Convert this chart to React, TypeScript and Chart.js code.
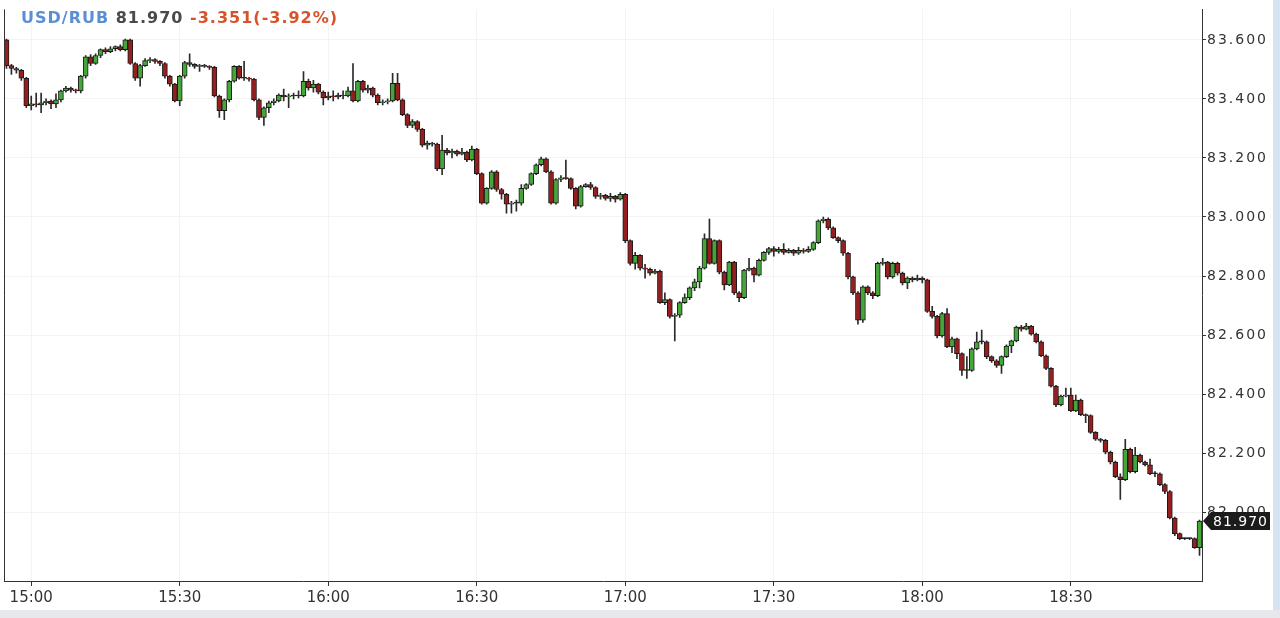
import { useEffect, useRef } from "react";
import { Chart, registerables } from "chart.js";

Chart.register(...registerables);

// ---- data (1-minute candles, 14:55 .. 18:56) ----
const startTime = "14:55";

const opens = [
  83.600, 83.513, 83.503, 83.497, 83.470, 83.377, 83.383, 83.380, 83.387, 83.393,
  83.383, 83.397, 83.427, 83.437, 83.430, 83.427, 83.477, 83.543, 83.520, 83.547,
  83.567, 83.560, 83.570, 83.577, 83.567, 83.600, 83.520, 83.470, 83.513, 83.530,
  83.533, 83.527, 83.520, 83.477, 83.450, 83.393, 83.477, 83.523, 83.517, 83.510,
  83.513, 83.510, 83.507, 83.410, 83.360, 83.397, 83.460, 83.510, 83.470, 83.470,
  83.467, 83.397, 83.337, 83.370, 83.387, 83.393, 83.413, 83.407, 83.410, 83.410,
  83.410, 83.460, 83.437, 83.450, 83.423, 83.403, 83.410, 83.407, 83.413, 83.410,
  83.427, 83.393, 83.460, 83.430, 83.437, 83.413, 83.387, 83.390, 83.393, 83.453,
  83.397, 83.347, 83.310, 83.323, 83.297, 83.243, 83.250, 83.247, 83.163, 83.227,
  83.217, 83.223, 83.213, 83.220, 83.193, 83.230, 83.147, 83.047, 83.097, 83.153,
  83.093, 83.077, 83.043, 83.047, 83.047, 83.097, 83.110, 83.147, 83.177, 83.197,
  83.153, 83.047, 83.127, 83.133, 83.130, 83.097, 83.037, 83.103, 83.110, 83.100,
  83.070, 83.073, 83.063, 83.070, 83.060, 83.077, 82.920, 82.843, 82.870, 82.827,
  82.823, 82.810, 82.817, 82.710, 82.720, 82.663, 82.667, 82.710, 82.727, 82.760,
  82.780, 82.827, 82.927, 82.843, 82.920, 82.813, 82.770, 82.847, 82.743, 82.727,
  82.820, 82.827, 82.803, 82.853, 82.880, 82.893, 82.883, 82.890, 82.880, 82.887,
  82.877, 82.887, 82.883, 82.890, 82.913, 82.987, 82.993, 82.963, 82.930, 82.920,
  82.877, 82.797, 82.743, 82.650, 82.763, 82.743, 82.733, 82.843, 82.847, 82.797,
  82.843, 82.810, 82.777, 82.793, 82.787, 82.793, 82.787, 82.680, 82.663, 82.597,
  82.673, 82.560, 82.587, 82.537, 82.480, 82.480, 82.553, 82.577, 82.577, 82.527,
  82.513, 82.497, 82.527, 82.563, 82.580, 82.627, 82.620, 82.630, 82.603, 82.577,
  82.530, 82.487, 82.427, 82.363, 82.393, 82.397, 82.343, 82.380, 82.330, 82.327,
  82.270, 82.247, 82.243, 82.203, 82.170, 82.120, 82.110, 82.213, 82.137, 82.193,
  82.170, 82.160, 82.130, 82.130, 82.093, 82.070, 81.980, 81.927, 81.910, 81.910,
  81.910, 81.880,
];

const highs = [
  83.603, 83.517, 83.507, 83.500, 83.473, 83.410, 83.420, 83.420, 83.400, 83.397,
  83.417, 83.430, 83.443, 83.440, 83.433, 83.480, 83.547, 83.550, 83.553, 83.570,
  83.573, 83.577, 83.580, 83.583, 83.603, 83.603, 83.523, 83.517, 83.537, 83.540,
  83.537, 83.530, 83.523, 83.480, 83.453, 83.480, 83.527, 83.553, 83.520, 83.517,
  83.517, 83.513, 83.510, 83.413, 83.400, 83.463, 83.513, 83.513, 83.527, 83.473,
  83.470, 83.400, 83.373, 83.393, 83.400, 83.417, 83.433, 83.417, 83.420, 83.427,
  83.493, 83.467, 83.463, 83.453, 83.427, 83.423, 83.427, 83.420, 83.427, 83.440,
  83.520, 83.463, 83.463, 83.447, 83.440, 83.417, 83.397, 83.400, 83.487, 83.487,
  83.400, 83.350, 83.330, 83.327, 83.300, 83.257, 83.253, 83.250, 83.277, 83.233,
  83.230, 83.227, 83.233, 83.223, 83.240, 83.233, 83.150, 83.100, 83.157, 83.157,
  83.097, 83.080, 83.053, 83.057, 83.110, 83.113, 83.150, 83.180, 83.203, 83.200,
  83.157, 83.130, 83.140, 83.193, 83.133, 83.100, 83.107, 83.113, 83.117, 83.103,
  83.080, 83.077, 83.080, 83.073, 83.083, 83.080, 82.923, 82.880, 82.873, 82.840,
  82.827, 82.823, 82.820, 82.743, 82.723, 82.673, 82.713, 82.740, 82.763, 82.790,
  82.833, 82.943, 82.993, 82.923, 82.923, 82.817, 82.850, 82.850, 82.747, 82.823,
  82.860, 82.830, 82.857, 82.883, 82.897, 82.900, 82.897, 82.910, 82.893, 82.890,
  82.897, 82.893, 82.900, 82.917, 82.990, 83.000, 82.997, 82.967, 82.933, 82.923,
  82.880, 82.800, 82.747, 82.767, 82.767, 82.747, 82.847, 82.860, 82.850, 82.847,
  82.847, 82.813, 82.797, 82.797, 82.803, 82.797, 82.790, 82.697, 82.667, 82.677,
  82.690, 82.593, 82.590, 82.540, 82.527, 82.557, 82.610, 82.617, 82.580, 82.530,
  82.517, 82.530, 82.567, 82.583, 82.630, 82.633, 82.640, 82.633, 82.607, 82.580,
  82.533, 82.490, 82.430, 82.397, 82.420, 82.420, 82.397, 82.383, 82.333, 82.330,
  82.273, 82.250, 82.247, 82.207, 82.173, 82.130, 82.247, 82.217, 82.220, 82.197,
  82.173, 82.180, 82.137, 82.133, 82.097, 82.073, 81.983, 81.930, 81.913, 81.913,
  81.913, 81.973,
];

const lows = [
  83.503, 83.483, 83.487, 83.463, 83.370, 83.363, 83.373, 83.353, 83.380, 83.367,
  83.370, 83.390, 83.423, 83.423, 83.420, 83.420, 83.470, 83.513, 83.517, 83.540,
  83.553, 83.557, 83.563, 83.563, 83.563, 83.517, 83.463, 83.443, 83.510, 83.523,
  83.520, 83.513, 83.470, 83.443, 83.390, 83.377, 83.470, 83.510, 83.503, 83.493,
  83.507, 83.500, 83.407, 83.337, 83.330, 83.390, 83.457, 83.467, 83.463, 83.460,
  83.393, 83.330, 83.310, 83.353, 83.380, 83.390, 83.393, 83.370, 83.400, 83.403,
  83.407, 83.430, 83.423, 83.417, 83.380, 83.397, 83.393, 83.400, 83.400, 83.407,
  83.390, 83.390, 83.423, 83.420, 83.407, 83.380, 83.380, 83.383, 83.390, 83.393,
  83.343, 83.303, 83.303, 83.290, 83.237, 83.230, 83.240, 83.157, 83.143, 83.210,
  83.200, 83.207, 83.210, 83.187, 83.190, 83.143, 83.043, 83.043, 83.093, 83.087,
  83.060, 83.013, 83.013, 83.020, 83.040, 83.093, 83.107, 83.143, 83.173, 83.150,
  83.043, 83.043, 83.120, 83.127, 83.093, 83.027, 83.033, 83.100, 83.093, 83.063,
  83.060, 83.057, 83.053, 83.050, 83.057, 82.913, 82.837, 82.823, 82.820, 82.793,
  82.803, 82.807, 82.707, 82.703, 82.657, 82.580, 82.660, 82.707, 82.720, 82.750,
  82.760, 82.823, 82.840, 82.840, 82.807, 82.753, 82.767, 82.737, 82.713, 82.723,
  82.817, 82.780, 82.800, 82.850, 82.873, 82.867, 82.877, 82.873, 82.877, 82.870,
  82.873, 82.877, 82.880, 82.887, 82.910, 82.980, 82.957, 82.927, 82.913, 82.870,
  82.790, 82.737, 82.637, 82.643, 82.737, 82.723, 82.730, 82.837, 82.790, 82.793,
  82.803, 82.770, 82.757, 82.780, 82.783, 82.777, 82.677, 82.657, 82.590, 82.593,
  82.557, 82.540, 82.520, 82.463, 82.453, 82.477, 82.550, 82.570, 82.520, 82.507,
  82.490, 82.470, 82.523, 82.540, 82.577, 82.613, 82.617, 82.600, 82.573, 82.527,
  82.483, 82.423, 82.357, 82.360, 82.390, 82.340, 82.340, 82.327, 82.303, 82.267,
  82.243, 82.237, 82.197, 82.163, 82.117, 82.043, 82.107, 82.133, 82.133, 82.167,
  82.157, 82.127, 82.120, 82.090, 82.063, 81.977, 81.920, 81.907, 81.907, 81.907,
  81.877, 81.853,
];

const closes = [
  83.513, 83.503, 83.497, 83.470, 83.377, 83.383, 83.380, 83.387, 83.393, 83.383,
  83.397, 83.427, 83.437, 83.430, 83.427, 83.477, 83.543, 83.520, 83.547, 83.567,
  83.560, 83.570, 83.577, 83.567, 83.600, 83.520, 83.470, 83.513, 83.530, 83.533,
  83.527, 83.520, 83.477, 83.450, 83.393, 83.477, 83.523, 83.517, 83.510, 83.513,
  83.510, 83.507, 83.410, 83.360, 83.397, 83.460, 83.510, 83.470, 83.470, 83.467,
  83.397, 83.337, 83.370, 83.387, 83.393, 83.413, 83.407, 83.410, 83.410, 83.410,
  83.460, 83.437, 83.450, 83.423, 83.403, 83.410, 83.407, 83.413, 83.410, 83.427,
  83.393, 83.460, 83.430, 83.437, 83.413, 83.387, 83.390, 83.393, 83.453, 83.397,
  83.347, 83.310, 83.323, 83.297, 83.243, 83.250, 83.247, 83.163, 83.227, 83.217,
  83.223, 83.213, 83.220, 83.193, 83.230, 83.147, 83.047, 83.097, 83.153, 83.093,
  83.077, 83.043, 83.047, 83.047, 83.097, 83.110, 83.147, 83.177, 83.197, 83.153,
  83.047, 83.127, 83.133, 83.130, 83.097, 83.037, 83.103, 83.110, 83.100, 83.070,
  83.073, 83.063, 83.070, 83.060, 83.077, 82.920, 82.843, 82.870, 82.827, 82.823,
  82.810, 82.817, 82.710, 82.720, 82.663, 82.667, 82.710, 82.727, 82.760, 82.780,
  82.827, 82.927, 82.843, 82.920, 82.813, 82.770, 82.847, 82.743, 82.727, 82.820,
  82.827, 82.803, 82.853, 82.880, 82.893, 82.883, 82.890, 82.880, 82.887, 82.877,
  82.887, 82.883, 82.890, 82.913, 82.987, 82.993, 82.963, 82.930, 82.920, 82.877,
  82.797, 82.743, 82.650, 82.763, 82.743, 82.733, 82.843, 82.847, 82.797, 82.843,
  82.810, 82.777, 82.793, 82.787, 82.793, 82.787, 82.680, 82.663, 82.597, 82.673,
  82.560, 82.587, 82.537, 82.480, 82.480, 82.553, 82.577, 82.577, 82.527, 82.513,
  82.497, 82.527, 82.563, 82.580, 82.627, 82.620, 82.630, 82.603, 82.577, 82.530,
  82.487, 82.427, 82.363, 82.393, 82.397, 82.343, 82.380, 82.330, 82.327, 82.270,
  82.247, 82.243, 82.203, 82.170, 82.120, 82.110, 82.213, 82.137, 82.193, 82.170,
  82.160, 82.130, 82.130, 82.093, 82.070, 81.980, 81.927, 81.910, 81.910, 81.910,
  81.880, 81.970,
];

const xTickLabels = ["15:00", "15:30", "16:00", "16:30", "17:00", "17:30", "18:00", "18:30"];
const yTickValues = [82.0, 82.2, 82.4, 82.6, 82.8, 83.0, 83.2, 83.4, 83.6];
const yMin = 81.7667;
const yMax = 83.7033;

const titleSymbol = "USD/RUB";
const titlePrice = "81.970";
const titleChange = "-3.351(-3.92%)";
const lastPrice = 81.97;

// minute labels for the category axis
function buildTimes(start: string, count: number): string[] {
  const [h, m] = start.split(":").map(Number);
  const out: string[] = [];
  for (let i = 0; i < count; i++) {
    const tot = h * 60 + m + i;
    const hh = Math.floor(tot / 60);
    const mm = tot % 60;
    out.push(String(hh).padStart(2, "0") + ":" + String(mm).padStart(2, "0"));
  }
  return out;
}
const times = buildTimes(startTime, closes.length);

const UP = "#44a639";
const DOWN = "#951f1f";
const DOJI = "#222222";
const AXIS = "#333333";
const GRID = "#f3f3f3";
const FONT = "'DejaVu Sans', sans-serif";

const CANVAS_W = 1273;
const CANVAS_H = 610;

const decorPlugin = {
  id: "decor",
  beforeDraw(chart: any) {
    const ctx = chart.ctx;
    ctx.save();
    ctx.fillStyle = "#ffffff";
    ctx.fillRect(0, 0, chart.width, chart.height);
    ctx.restore();
    const ys = chart.scales.y;
    if (ys && !ys._lsWrapped) {
      const orig = ys.drawLabels.bind(ys);
      ys.drawLabels = (area: any) => {
        const c = ys.ctx;
        c.save();
        c.letterSpacing = "2px";
        orig(area);
        c.restore();
      };
      ys._lsWrapped = true;
    }
  },
  afterDraw(chart: any) {
    const { ctx, chartArea } = chart;
    ctx.save();
    ctx.strokeStyle = AXIS;
    ctx.lineWidth = 1;
    ctx.beginPath();
    ctx.moveTo(chartArea.left + 0.5, chartArea.top);
    ctx.lineTo(chartArea.left + 0.5, chartArea.bottom);
    ctx.stroke();

    // last price tag
    const y = Math.round(chart.scales.y.getPixelForValue(lastPrice));
    const x0 = chartArea.right + 1;
    ctx.fillStyle = "#1b1b1b";
    ctx.beginPath();
    ctx.moveTo(x0, y);
    ctx.lineTo(x0 + 8, y - 9);
    ctx.lineTo(x0 + 67, y - 9);
    ctx.lineTo(x0 + 67, y + 9);
    ctx.lineTo(x0 + 8, y + 9);
    ctx.closePath();
    ctx.fill();
    ctx.fillStyle = "#ffffff";
    ctx.font = "14px " + FONT;
    ctx.letterSpacing = "1px";
    ctx.textBaseline = "middle";
    ctx.textAlign = "left";
    ctx.fillText(lastPrice.toFixed(3), x0 + 10, y + 1);
    ctx.restore();
  },
};

export default function App() {
  const canvasRef = useRef<HTMLCanvasElement | null>(null);

  useEffect(() => {
    const canvas = canvasRef.current;
    if (!canvas) return;
    const isMajor = (i: number) => xTickLabels.includes(times[i]);
    const chart = new Chart(canvas, {
      type: "bar",
      data: {
        labels: times,
        datasets: [
          {
            label: "body",
            data: closes.map((c, i) => [opens[i], c]) as any,
            backgroundColor: (ctx: any) => {
              const i = ctx.dataIndex;
              if (closes[i] > opens[i]) return UP;
              if (closes[i] < opens[i]) return DOWN;
              return DOJI;
            },
            borderColor: "#1a1a1a",
            borderWidth: 1,
            borderSkipped: false,
            barThickness: 5,
            minBarLength: 1,
            grouped: false,
            order: 0,
          } as any,
          {
            label: "wick",
            data: lows.map((l, i) => [l, highs[i]]) as any,
            backgroundColor: "#2b2b2b",
            borderWidth: 0,
            barThickness: 1,
            grouped: false,
            order: 1,
          } as any,
        ],
      },
      options: {
        responsive: false,
        animation: false,
        layout: { padding: { left: 4, top: 0, right: 0, bottom: 0 } },
        plugins: {
          legend: { display: false },
          tooltip: { enabled: false },
          title: { display: false },
        },
        scales: {
          x: {
            type: "category",
            offset: true,
            grid: {
              offset: false,
              color: (ctx: any) => (isMajor(ctx.index) ? GRID : "rgba(0,0,0,0)"),
              tickColor: (ctx: any) => (isMajor(ctx.index) ? AXIS : "rgba(0,0,0,0)"),
              tickLength: 5,
            },
            border: { display: true, color: AXIS, width: 1 },
            ticks: {
              autoSkip: false,
              maxRotation: 0,
              minRotation: 0,
              padding: 3,
              color: AXIS,
              font: { family: FONT, size: 15 },
              callback: (_v: any, i: number) => (isMajor(i) ? times[i] : ""),
            },
            afterFit: (s: any) => {
              s.height = 29;
            },
          },
          y: {
            position: "right",
            min: yMin,
            max: yMax,
            afterBuildTicks: (s: any) => {
              s.ticks = yTickValues.map((v) => ({ value: v }));
            },
            grid: { color: GRID, tickColor: AXIS, tickLength: 4 },
            border: { display: true, color: AXIS, width: 1 },
            ticks: {
              padding: 1,
              color: AXIS,
              font: { family: FONT, size: 14 },
              callback: (v: any) => Number(v).toFixed(3),
            },
            afterFit: (s: any) => {
              s.width = CANVAS_W - 1202;
            },
          },
        },
      } as any,
      plugins: [decorPlugin],
    });
    return () => chart.destroy();
  }, []);

  return (
    <div
      style={{
        position: "fixed",
        left: 0,
        top: 0,
        width: 1280,
        height: 618,
        background: "#d6e3f3",
        overflow: "hidden",
      }}
    >
      <div
        style={{
          position: "absolute",
          left: 0,
          top: CANVAS_H,
          width: 1280,
          height: 618 - CANVAS_H,
          background: "#e6e8ec",
        }}
      />
      <canvas
        ref={canvasRef}
        width={CANVAS_W}
        height={CANVAS_H}
        style={{ position: "absolute", left: 0, top: 0, width: CANVAS_W, height: CANVAS_H }}
      />
      <div
        style={{
          position: "absolute",
          left: 21,
          top: 8,
          font: "bold 16px 'DejaVu Sans', sans-serif",
          letterSpacing: "1px",
          whiteSpace: "nowrap",
          lineHeight: "20px",
        }}
      >
        <span style={{ color: "#5b8fd4" }}>{titleSymbol}</span>{" "}
        <span style={{ color: "#4a4a4a" }}>{titlePrice}</span>{" "}
        <span style={{ color: "#d8532a" }}>{titleChange}</span>
      </div>
    </div>
  );
}
